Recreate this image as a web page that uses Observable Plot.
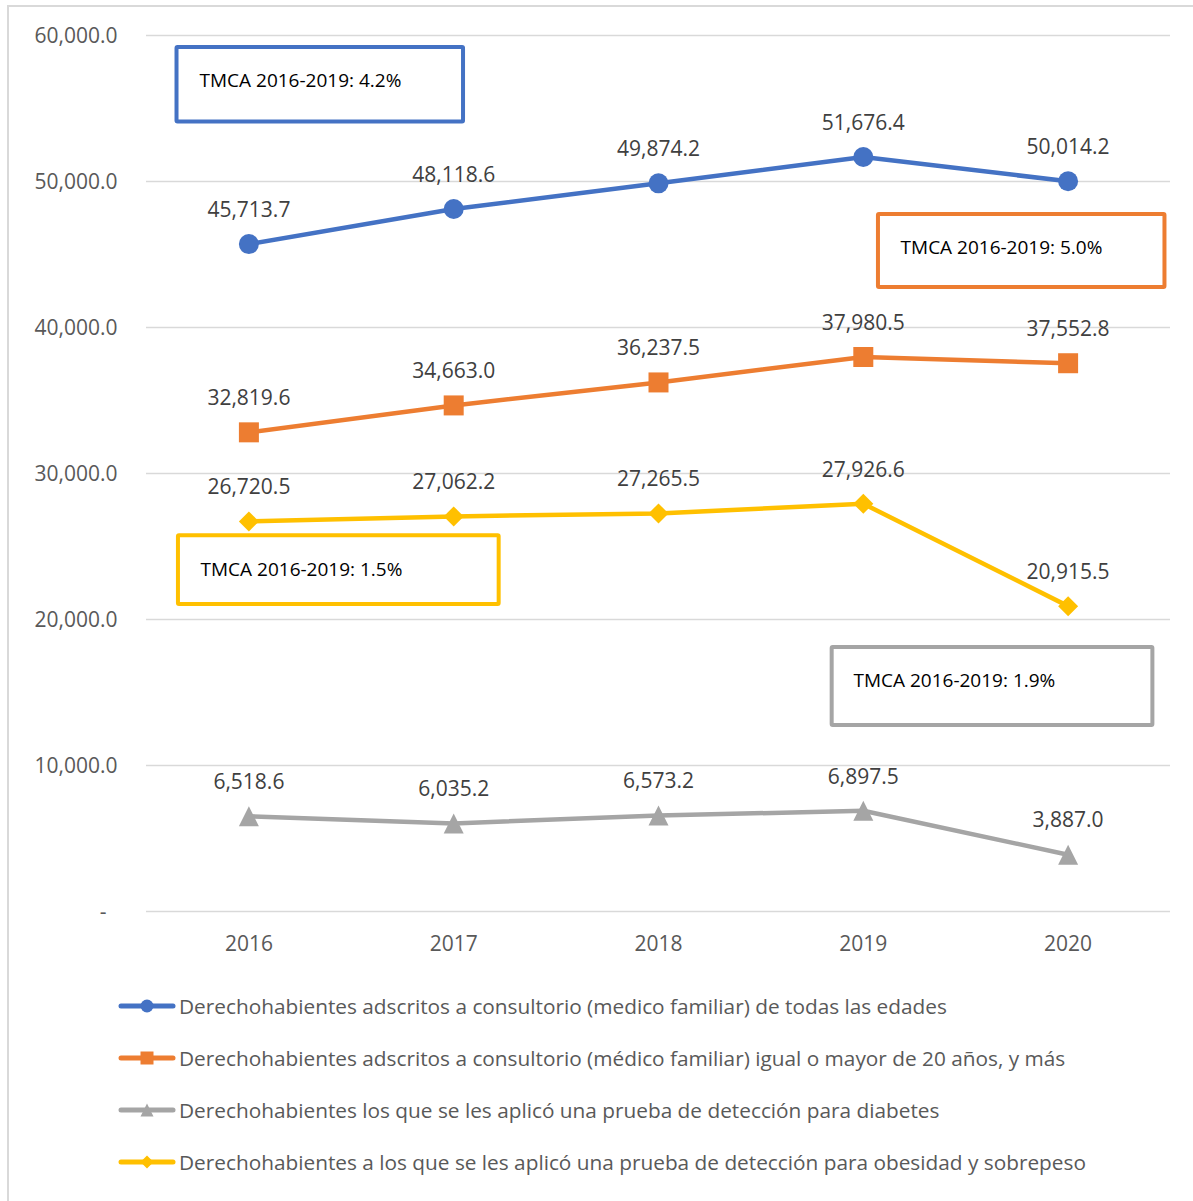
<!DOCTYPE html>
<html>
<head>
<meta charset="utf-8">
<script src="https://cdn.jsdelivr.net/npm/d3@7"></script>
<script src="https://cdn.jsdelivr.net/npm/@observablehq/plot@0.6"></script>
<style>
  html, body { margin: 0; padding: 0; background: #fff; }
  #wrap { position: relative; width: 1193px; height: 1201px; overflow: hidden; background: #fff; font-family: "Open Sans", sans-serif; }
  #frame { position: absolute; left: 7px; top: 5px; right: -10px; bottom: -10px; border-left: 2px solid #d9d9d9; border-top: 2px solid #d9d9d9; pointer-events: none; }
  #chart { position: absolute; left: 0; top: 0; }
  #legend { position: absolute; left: 118px; top: 980px; }
  .row { display: flex; align-items: center; height: 52px; color: #595959; font-size: 20.8px; white-space: nowrap; }
  .row svg { margin-right: 3px; }
</style>
</head>
<body>
<div id="wrap">
  <div id="chart"></div>
  <div id="legend"></div>
  <div id="frame"></div>
</div>
<script>
// ---- data ----
const years = [2016, 2017, 2018, 2019, 2020];
const seriesNames = [
  "Derechohabientes adscritos a consultorio (medico familiar) de todas las edades",
  "Derechohabientes adscritos a consultorio (médico familiar) igual o mayor de 20 años, y más",
  "Derechohabientes los que se les aplicó una prueba de detección para diabetes",
  "Derechohabientes a los que se les aplicó una prueba de detección para obesidad y sobrepeso"
];
const seriesColors = ["#4472C4", "#ED7D31", "#A5A5A5", "#FFC000"];
const seriesSymbols = ["circle", "square", "triangle", "diamond"];
const valuesTodas = [45713.7, 48118.6, 49874.2, 51676.4, 50014.2];
const valuesMayor20 = [32819.6, 34663.0, 36237.5, 37980.5, 37552.8];
const valuesDiabetes = [6518.6, 6035.2, 6573.2, 6897.5, 3887.0];
const valuesObesidad = [26720.5, 27062.2, 27265.5, 27926.6, 20915.5];
const seriesValues = [valuesTodas, valuesMayor20, valuesDiabetes, valuesObesidad];
const yTicks = [0, 10000, 20000, 30000, 40000, 50000, 60000];

// annotation boxes (TMCA), in data units
const boxTexts = ["TMCA 2016-2019: 4.2%", "TMCA 2016-2019: 5.0%", "TMCA 2016-2019: 1.9%", "TMCA 2016-2019: 1.5%"];
const boxColors = ["#4472C4", "#ED7D31", "#A5A5A5", "#FFC000"];
const boxX1 = [2015.649, 2019.074, 2018.848, 2015.656];
const boxX2 = [2017.048, 2020.473, 2020.414, 2017.222];
const boxY1 = [59178, 47740, 18082, 25733];
const boxY2 = [54075, 42740, 12740, 21027];
const boxTextX = [2015.759, 2019.182, 2018.952, 2015.764];
const boxTextY = [56918, 45479, 15822, 23425];

// ---- custom symbols (size -> equivalent radius) ----
const rad = size => Math.sqrt(size / Math.PI);
const symbolDefs = {
  circle: { draw(ctx, size) { const r = rad(size); ctx.moveTo(r, 0); ctx.arc(0, 0, r, 0, 2 * Math.PI); ctx.closePath(); } },
  square: { draw(ctx, size) { const r = rad(size); ctx.rect(-r, -r, 2 * r, 2 * r); } },
  triangle: { draw(ctx, size) { const r = rad(size); ctx.moveTo(0, -r); ctx.lineTo(r, r); ctx.lineTo(-r, r); ctx.closePath(); } },
  diamond: { draw(ctx, size) { const r = rad(size); ctx.moveTo(0, -r); ctx.lineTo(r, 0); ctx.lineTo(0, r); ctx.lineTo(-r, 0); ctx.closePath(); } }
};

const fmt = d3.format(",.1f");
const FONT = "'Open Sans', sans-serif";

const boxes = boxTexts.map((t, i) => ({
  text: t, x1: boxX1[i], x2: boxX2[i], y1: boxY1[i], y2: boxY2[i], tx: boxTextX[i], ty: boxTextY[i], color: boxColors[i]
}));

const marks = [
  Plot.gridY(yTicks, { stroke: "#d9d9d9", strokeOpacity: 1, strokeWidth: 1.5 }),
  Plot.axisY(yTicks, {
    tickSize: 0, tickPadding: 29, fontSize: 21, fill: "#595959", label: null, dy: 1,
    tickFormat: d => d === 0 ? "-\u00a0\u00a0" : fmt(d)
  }),
  Plot.axisX(years, {
    tickSize: 0, tickPadding: 25, fontSize: 21, fill: "#595959", label: null,
    tickFormat: d => String(d)
  })
];

seriesValues.forEach((vals, i) => {
  const rows = years.map((y, j) => ({ year: y, value: vals[j] }));
  marks.push(Plot.line(rows, { x: "year", y: "value", stroke: seriesColors[i], strokeWidth: 4.5, strokeLinejoin: "round", strokeLinecap: "round" }));
});
seriesValues.forEach((vals, i) => {
  const rows = years.map((y, j) => ({ year: y, value: vals[j] }));
  marks.push(Plot.dot(rows, { x: "year", y: "value", r: 10, symbol: symbolDefs[seriesSymbols[i]], fill: seriesColors[i], stroke: "none" }));
  marks.push(Plot.text(rows, { x: "year", y: "value", text: d => fmt(d.value), dy: -34, fontSize: 21, fill: "#404040" }));
});

marks.push(Plot.rect(boxes, { x1: "x1", x2: "x2", y1: "y1", y2: "y2", fill: "white", stroke: d => d.color, strokeWidth: 4, rx: 1 }));
marks.push(Plot.text(boxes, { x: "tx", y: "ty", text: "text", textAnchor: "start", fontSize: 19, fill: "#000" }));

const chart = Plot.plot({
  width: 1193,
  height: 970,
  marginLeft: 146,
  marginRight: 23,
  marginTop: 35,
  marginBottom: 59,
  x: { type: "linear", domain: [2015.5, 2020.5] },
  y: { domain: [0, 60000] },
  style: { fontFamily: FONT, background: "transparent", color: "#595959" },
  marks
});
document.getElementById("chart").appendChild(chart);

// ---- legend ----
const legend = document.getElementById("legend");
seriesNames.forEach((name, i) => {
  const row = document.createElement("div");
  row.className = "row";
  const sw = d3.create("svg").attr("width", 58).attr("height", 20);
  sw.append("line").attr("x1", 3).attr("x2", 55).attr("y1", 10).attr("y2", 10)
    .attr("stroke", seriesColors[i]).attr("stroke-width", 5).attr("stroke-linecap", "round");
  sw.append("path").attr("transform", "translate(29,10)")
    .attr("d", d3.symbol(symbolDefs[seriesSymbols[i]], Math.PI * 6.5 * 6.5)())
    .attr("fill", seriesColors[i]);
  row.appendChild(sw.node());
  const span = document.createElement("span");
  span.textContent = name;
  row.appendChild(span);
  legend.appendChild(row);
});
</script>
</body>
</html>
